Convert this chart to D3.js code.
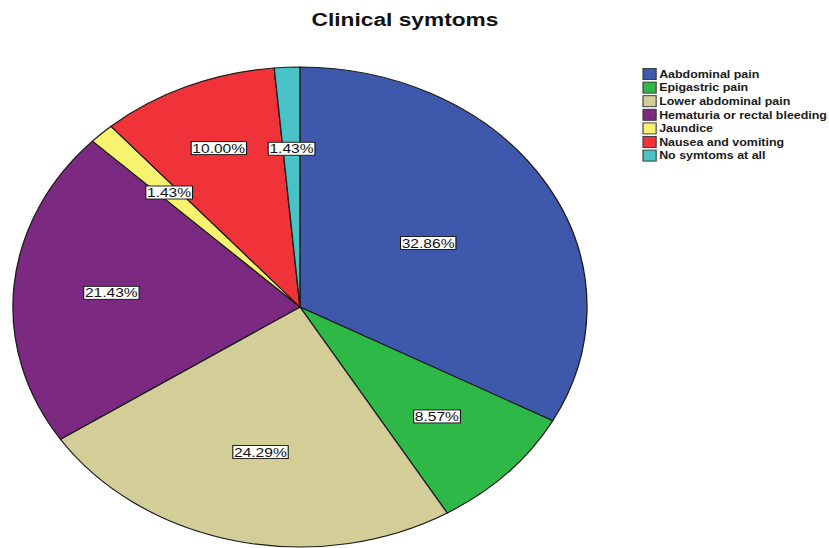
<!DOCTYPE html>
<html>
<head>
<meta charset="utf-8">
<script src="https://cdn.jsdelivr.net/npm/d3@7"></script>
<style>
  html, body { margin: 0; padding: 0; background: #fff; }
  svg { display: block; }
  text { font-family: Arial, "Liberation Sans", sans-serif; }
</style>
</head>
<body>
<svg id="chart" width="829" height="548"></svg>
<script>
// Clinical symptoms, share of patients (%)
const title = "Clinical symtoms";
const categories = [
  "Aabdominal pain",
  "Epigastric pain",
  "Lower abdominal pain",
  "Hematuria or rectal bleeding",
  "Jaundice",
  "Nausea and vomiting",
  "No symtoms at all"
];
const percents = [32.86, 8.57, 24.29, 21.43, 1.43, 10.00, 1.43];
const colors = ["#3e58ac", "#2eb848", "#d3ce97", "#7c2a81", "#f8f36e", "#ef3338", "#48c2c5"];

// Layout (native coordinates, then stretched horizontally as a whole)
const W = 829, H = 548;
const stretchX = 1.196;
const radius = 240;
const center = { x: 250.8, y: 307 };
const labelDistDefault = 0.66;
const labelDist = { "Aabdominal pain": 0.52, "Lower abdominal pain": 0.62, "Nausea and vomiting": 0.72 };

const data = categories.map((c, i) => ({ category: c, value: percents[i], color: colors[i] }));

const svg = d3.select("#chart");
svg.append("rect").attr("width", W).attr("height", H).attr("fill", "#fff");

const root = svg.append("g").attr("transform", `scale(${stretchX},1)`);

// Title
root.append("text")
  .attr("x", 405 / stretchX)
  .attr("y", 26)
  .attr("text-anchor", "middle")
  .attr("font-size", 19)
  .attr("font-weight", "bold")
  .attr("fill", "#111")
  .text(title);

// Pie
const pie = d3.pie().sort(null).value(d => d.value).startAngle(0).endAngle(2 * Math.PI);
const arc = d3.arc().innerRadius(0).outerRadius(radius);
const arcs = pie(data);

const pieG = root.append("g").attr("transform", `translate(${center.x},${center.y})`);

pieG.selectAll("path.slice")
  .data(arcs)
  .join("path")
  .attr("class", "slice")
  .attr("d", arc)
  .attr("fill", d => d.data.color)
  .attr("stroke", "#1b1b1b")
  .attr("stroke-width", 1.1)
  .attr("stroke-linejoin", "round");

// Percentage labels in white boxes
const labels = pieG.selectAll("g.lbl")
  .data(arcs)
  .join("g")
  .attr("class", "lbl")
  .attr("transform", d => {
    const a = (d.startAngle + d.endAngle) / 2;
    const f = labelDist[d.data.category] ?? labelDistDefault;
    const r = radius * f;
    return `translate(${Math.sin(a) * r},${-Math.cos(a) * r})`;
  });

labels.append("rect").attr("class", "box");
labels.append("text")
  .attr("text-anchor", "middle")
  .attr("y", 4.6)
  .attr("font-size", 13)
  .attr("fill", "#111")
  .text(d => d.data.value.toFixed(2) + "%");

labels.each(function () {
  const g = d3.select(this);
  const bb = g.select("text").node().getBBox();
  g.select("rect")
    .attr("x", bb.x - 1)
    .attr("y", -6.5)
    .attr("width", bb.width + 2)
    .attr("height", 13)
    .attr("fill", "#fff")
    .attr("stroke", "#111")
    .attr("stroke-width", 0.9);
});

// Legend
const legendX = 643 / stretchX;
const legendY0 = 74;
const legendStep = 13.6;
const legend = root.append("g");
const rows = legend.selectAll("g.row")
  .data(data)
  .join("g")
  .attr("class", "row")
  .attr("transform", (d, i) => `translate(${legendX},${legendY0 + i * legendStep})`);

rows.append("rect")
  .attr("x", 0)
  .attr("y", -5.5)
  .attr("width", 11)
  .attr("height", 11)
  .attr("fill", d => d.color)
  .attr("stroke", "#333")
  .attr("stroke-width", 0.9);

rows.append("text")
  .attr("x", 13.5)
  .attr("y", 3.8)
  .attr("font-size", 10.4)
  .attr("font-weight", "bold")
  .attr("fill", "#1a1a1a")
  .text(d => d.category);
</script>
</body>
</html>
